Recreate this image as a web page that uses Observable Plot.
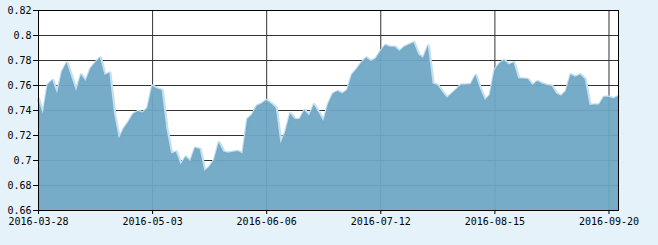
<!DOCTYPE html>
<html>
<head>
<meta charset="utf-8">
<script src="https://cdn.jsdelivr.net/npm/d3@7"></script>
<script src="https://cdn.jsdelivr.net/npm/@observablehq/plot@0.6"></script>
<style>
  html, body { margin: 0; padding: 0; background: #e6f2fa; }
  #chart { width: 658px; height: 245px; }
</style>
</head>
<body>
<div id="chart"></div>
<script>
// Values per trading day (index 0 = 2016-03-28)
const values = [
  0.749, 0.737, 0.7605, 0.764, 0.7533, 0.7707, 0.778, 0.7667, 0.7552, 0.7685,
  0.7632, 0.7733, 0.778, 0.782, 0.768, 0.770, 0.737, 0.7173, 0.7253, 0.7307,
  0.737, 0.7392, 0.738, 0.7419, 0.7595, 0.7573, 0.756, 0.7253, 0.7053, 0.7067,
  0.6965, 0.7027, 0.6992, 0.7099, 0.7088, 0.6912, 0.6947, 0.700, 0.7141, 0.7067,
  0.7058, 0.7067, 0.7072, 0.7053, 0.7328, 0.7365, 0.7435, 0.7453, 0.748, 0.7453,
  0.7419, 0.7133, 0.7227, 0.7373, 0.7328, 0.7328, 0.740, 0.7355, 0.7445, 0.738,
  0.7312, 0.745, 0.7533, 0.7552, 0.7533, 0.756, 0.7685, 0.7728, 0.7781, 0.782,
  0.7792, 0.7813, 0.7872, 0.792, 0.7907, 0.7907, 0.7872, 0.7907, 0.7925, 0.7941,
  0.7845, 0.7819, 0.7915, 0.7613, 0.760, 0.7547, 0.7499, 0.7533, 0.7568, 0.7605,
  0.7605, 0.7608, 0.768, 0.7568, 0.748, 0.752, 0.772, 0.7773, 0.780, 0.7765,
  0.7781, 0.7655, 0.7653, 0.7648, 0.760, 0.7632, 0.7613, 0.760, 0.7595, 0.7533,
  0.7515, 0.7552, 0.7685, 0.7667, 0.7685, 0.7648, 0.744, 0.7445, 0.7445, 0.7507,
  0.7507, 0.7493, 0.7512
];
const tickIndex = [0, 24, 48, 72, 96, 120];
const tickLabels = ["2016-03-28", "2016-05-03", "2016-06-06", "2016-07-12", "2016-08-15", "2016-09-20"];
const yTicks = [0.66, 0.68, 0.70, 0.72, 0.74, 0.76, 0.78, 0.80, 0.82];

const data = values.map((v, i) => ({i, v}));

const chart = Plot.plot({
  width: 658,
  height: 245,
  marginLeft: 38,
  marginRight: 40,
  marginTop: 10,
  marginBottom: 35,
  style: {background: "transparent", fontFamily: "'DejaVu Sans Mono', monospace", fontSize: "10px", color: "#000"},
  x: {domain: [0, values.length - 1], label: null},
  y: {domain: [0.66, 0.82], label: null},
  marks: [
    Plot.frame({fill: "white"}),
    Plot.gridY(yTicks, {stroke: "#333", strokeOpacity: 1}),
    Plot.gridX(tickIndex, {stroke: "#333", strokeOpacity: 1}),
    Plot.lineY(data, {x: "i", y: "v", stroke: "#c4dfee", strokeWidth: 3.5}),
    Plot.areaY(data, {x: "i", y1: 0.66, y2: "v", fill: "#6ea7c5", fillOpacity: 0.94}),
    Plot.frame({stroke: "#000", strokeWidth: 1}),
    Plot.axisX({ticks: tickIndex, tickFormat: d => tickLabels[tickIndex.indexOf(d)], tickSize: 4, tickPadding: 3, stroke: "#000", label: null}),
    Plot.axisY({ticks: yTicks, tickFormat: d => String(+d.toFixed(2)), tickSize: 5, tickPadding: 2, stroke: "#000", label: null})
  ]
});
document.getElementById("chart").appendChild(chart);
</script>
</body>
</html>
